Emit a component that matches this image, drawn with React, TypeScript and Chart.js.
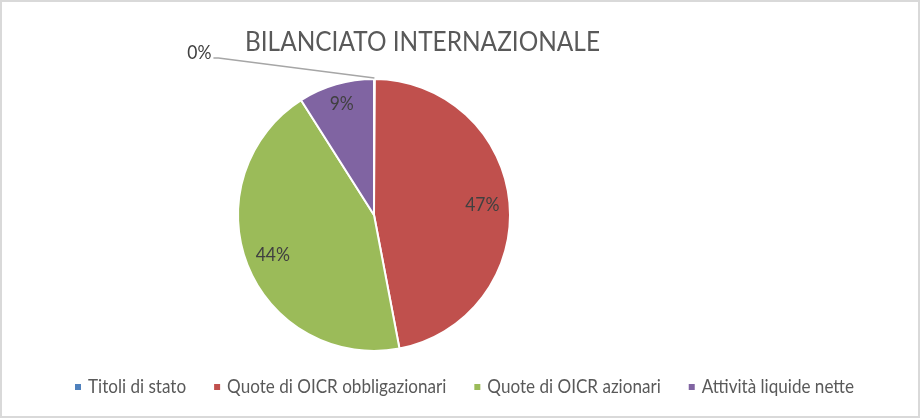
import React, { useEffect, useRef } from "react";
import { Chart, registerables } from "chart.js";

Chart.register(...registerables);

const TITLE = "BILANCIATO INTERNAZIONALE";
const categories = [
  "Titoli di stato",
  "Quote di OICR obbligazionari",
  "Quote di OICR azionari",
  "Attività liquide nette",
];
const shares = [0.1, 46.9, 44.0, 9.0];
const colors = ["#4F81BD", "#C0504D", "#9BBB59", "#8064A2"];

const W = 921;
const H = 419;
const FONT = "Lato, 'Open Sans', sans-serif";

function drawText(ctx: CanvasRenderingContext2D, text: string, x: number, y: number, sx: number, align: "left" | "center" | "right") {
  const w = ctx.measureText(text).width * sx;
  let left = x;
  if (align === "center") left = x - w / 2;
  if (align === "right") left = x - w;
  ctx.save();
  ctx.translate(left, y);
  ctx.scale(sx, 1);
  ctx.textAlign = "left";
  ctx.fillText(text, 0, 0);
  ctx.restore();
}

const decorPlugin = {
  id: "decor",
  beforeDraw(chart: any) {
    const ctx = chart.ctx as CanvasRenderingContext2D;
    ctx.save();
    ctx.fillStyle = "#FFFFFF";
    ctx.fillRect(0, 0, W, H);
    ctx.restore();
  },
  afterDraw(chart: any) {
    const ctx = chart.ctx as CanvasRenderingContext2D;
    ctx.save();
    // frame
    ctx.strokeStyle = "#D9D9D9";
    ctx.lineWidth = 2;
    ctx.strokeRect(1, 1, W - 3, H - 3);

    // title
    ctx.fillStyle = "#595959";
    ctx.textBaseline = "alphabetic";
    ctx.font = `26px ${FONT}`;
    const tw = ctx.measureText(TITLE).width;
    drawText(ctx, TITLE, 422.5, 51, 355 / tw, "center");

    // data labels
    const meta = chart.getDatasetMeta(0);
    const data = chart.data.datasets[0].data as number[];
    const total = data.reduce((a: number, b: number) => a + b, 0);
    ctx.font = `19px ${FONT}`;
    ctx.textBaseline = "middle";
    meta.data.forEach((arc: any, i: number) => {
      const p = arc.getProps(["x", "y", "startAngle", "endAngle", "outerRadius"], true);
      const mid = (p.startAngle + p.endAngle) / 2;
      const frac = data[i] / total;
      const pct = Math.round(frac * 100) + "%";
      if (frac < 0.02) {
        const ox = p.x + Math.cos(mid) * p.outerRadius;
        const oy = p.y + Math.sin(mid) * p.outerRadius;
        ctx.strokeStyle = "#A6A6A6";
        ctx.lineWidth = 1.5;
        ctx.beginPath();
        ctx.moveTo(ox, oy - 1);
        ctx.lineTo(ox - 156, oy - 21);
        ctx.lineTo(ox - 161, oy - 21);
        ctx.stroke();
        ctx.fillStyle = "#404040";
        drawText(ctx, pct, ox - 163, oy - 26, 0.92, "right");
      } else {
        const rf = frac < 0.15 ? 0.85 : 0.8;
        const lx = p.x + Math.cos(mid) * p.outerRadius * rf;
        const ly = p.y + Math.sin(mid) * p.outerRadius * rf;
        ctx.fillStyle = "#404040";
        drawText(ctx, pct, lx, ly, 0.92, "center");
      }
    });

    // legend
    ctx.font = `19px ${FONT}`;
    ctx.textBaseline = "middle";
    const labels = chart.data.labels as string[];
    const widths = labels.map((l) => ctx.measureText(l).width);
    const sumW = widths.reduce((a, b) => a + b, 0);
    const sx = 643 / sumW;
    const box = 6;
    const boxGap = 7;
    const itemGap = 28;
    const totalW = widths.reduce((a, w) => a + box + boxGap + w * sx, 0) + itemGap * (labels.length - 1);
    let x = 464.5 - totalW / 2;
    const cy = 387;
    labels.forEach((l, i) => {
      ctx.fillStyle = colors[i];
      ctx.fillRect(x, cy - 3, box, box);
      x += box + boxGap;
      ctx.fillStyle = "#595959";
      drawText(ctx, l, x, cy, sx, "left");
      x += widths[i] * sx + itemGap;
    });
    ctx.restore();
  },
};

export default function App() {
  const ref = useRef<HTMLCanvasElement | null>(null);
  useEffect(() => {
    if (!ref.current) return;
    const chart = new Chart(ref.current, {
      type: "pie",
      data: {
        labels: categories,
        datasets: [
          {
            data: shares,
            backgroundColor: colors,
            borderColor: "#FFFFFF",
            borderWidth: 2,
          },
        ],
      },
      options: {
        responsive: false,
        animation: false,
        devicePixelRatio: 1,
        layout: { padding: { left: 237, top: 78, right: 410, bottom: 67 } },
        plugins: {
          legend: { display: false },
          title: { display: false },
          tooltip: { enabled: false },
        },
      },
      plugins: [decorPlugin],
    });
    return () => chart.destroy();
  }, []);
  return (
    <div style={{ position: "fixed", left: 0, top: 0, width: W, height: H }}>
      <canvas ref={ref} width={W} height={H} style={{ display: "block", width: W, height: H }} />
    </div>
  );
}
